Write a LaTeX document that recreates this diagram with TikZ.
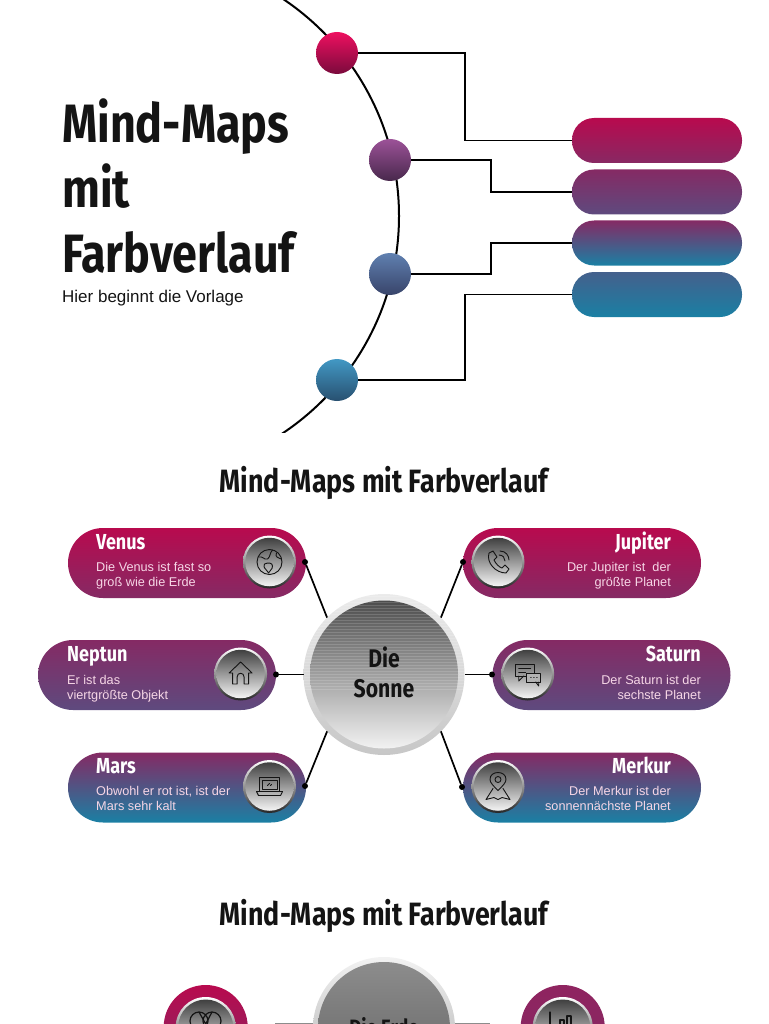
\documentclass[tikz,border=0pt]{standalone}
\usepackage{fontspec}
\setmainfont{Liberation Sans}
\newfontfamily\headfont[FakeStretch=0.83]{Fira Sans}
\usetikzlibrary{shapes.geometric, arrows.meta}
\definecolor{textdark}{HTML}{141414}
\definecolor{berry}{HTML}{B80A4E}
\definecolor{plum}{HTML}{852A64}
\definecolor{violet}{HTML}{5E4A7E}
\definecolor{teal}{HTML}{1A80A4}
\definecolor{dusk}{HTML}{5C6A94}
\definecolor{slate}{HTML}{44608C}
\definecolor{blush}{HTML}{F6D6E6}
\tikzset{
  link/.style={draw=black, line width=1.7pt},
  ball/.style={circle, minimum size=42pt, inner sep=0pt, outer sep=0pt},
  bar/.style={rectangle, rounded corners=22pt, minimum width=170pt, minimum height=45pt, inner sep=0pt, outer sep=0pt},
  pill/.style={rectangle, rounded corners=35pt, minimum width=238pt, minimum height=70pt, inner sep=0pt, outer sep=0pt},
  rim/.style={circle, minimum size=53pt, inner sep=0pt, outer sep=0pt, top color=white, middle color=black!35, bottom color=black!85},
  disc/.style={circle, minimum size=48.5pt, inner sep=0pt, outer sep=0pt, top color=black!75, bottom color=black!4},
  pin/.style={circle, fill=black, minimum size=6pt, inner sep=0pt, outer sep=0pt},
  icon/.style={draw=textdark, line width=0.9pt, line join=round, line cap=round},
  headline/.style={font=\headfont\bfseries\fontsize{32.3}{38}\selectfont, text=textdark, inner sep=0pt},
  planet/.style={font=\headfont\bfseries\fontsize{21.7}{26}\selectfont, text=white, inner sep=0pt},
  note/.style={font=\fontsize{12.7}{15}\selectfont, inner sep=0pt, text=blush},
}
\begin{document}
\begin{tikzpicture}[x=1pt,y=-1pt]
\useasboundingbox (0,0) rectangle (768,1024);
\begin{scope}
\clip (0,0) rectangle (768,1024);
% title block
\node[anchor=base west, inner sep=0pt, align=left, text=textdark, font=\headfont\bfseries\fontsize{54}{65}\selectfont] (title) at (62,272) {Mind-Maps\\mit\\Farbverlauf};
\node[anchor=base west, inner sep=0pt, text=textdark, font=\fontsize{17}{20}\selectfont] (subtitle) at (62,302) {Hier beginnt die Vorlage};
% arc with balls
\begin{scope}
\clip (200,0) rectangle (420,432);
\draw[line width=2pt] (138,216) circle (261);
\end{scope}
\node[ball, top color={rgb,255:red,238;green,16;blue,96}, bottom color={rgb,255:red,122;green,10;blue,60}] (ball1) at (337,53) {};
\node[ball, top color={rgb,255:red,156;green,82;blue,152}, bottom color={rgb,255:red,72;green,40;blue,76}] (ball2) at (390,160) {};
\node[ball, top color={rgb,255:red,96;green,128;blue,176}, bottom color={rgb,255:red,56;green,68;blue,106}] (ball3) at (390,274) {};
\node[ball, top color={rgb,255:red,66;green,152;blue,196}, bottom color={rgb,255:red,40;green,80;blue,112}] (ball4) at (337,380) {};
\node[bar, top color=berry, bottom color=plum!95!berry] (bar1) at (657,140.5) {};
\node[bar, top color=plum, bottom color=violet] (bar2) at (657,192) {};
\node[bar, top color=plum, middle color=dusk, bottom color=teal] (bar3) at (657,243) {};
\node[bar, top color=slate, bottom color=teal] (bar4) at (657,294.5) {};
\draw[link] (ball1.east) -- ++(107,0) |- (bar1.west);
\draw[link] (ball2.east) -- ++(80,0) |- (bar2.west);
\draw[link] (ball3.east) -- ++(80,0) |- (bar3.west);
\draw[link] (ball4.east) -- ++(107,0) |- (bar4.west);
% second slide
\node[headline] (head2) at (384,483) {Mind-Maps mit Farbverlauf};
\node[pill, top color=berry, bottom color=plum] (venus) at (187,563) {};
\node[pill, top color=plum, bottom color=violet] (neptun) at (157,675) {};
\node[pill, top color=plum, middle color=dusk, bottom color=teal] (mars) at (187,787.5) {};
\node[pill, top color=berry, bottom color=plum] (jupiter) at (582,563) {};
\node[pill, top color=plum, bottom color=violet] (saturn) at (611.5,675) {};
\node[pill, top color=plum, middle color=dusk, bottom color=teal] (merkur) at (582,787.5) {};
\node[pin] (pinvenus) at (305,562) {};
\node[pin] (pinneptun) at (276,674.5) {};
\node[pin] (pinmars) at (305,786) {};
\node[pin] (pinjupiter) at (463,562) {};
\node[pin] (pinsaturn) at (492,674.5) {};
\node[pin] (pinmerkur) at (462,787) {};
\coordinate (sun) at (384,674.5);
\node[circle, minimum size=161pt, inner sep=0pt, outer sep=0pt, top color=black!8, middle color=black!32, bottom color=black!22] (sunrim) at (sun) {};
\node[circle, minimum size=148pt, inner sep=0pt, top color=black!70, middle color=black!50, bottom color=black!5] (sundisc) at (sun) {};
\draw[link] (pinvenus) -- (sunrim.135);
\draw[link] (pinneptun) -- (sunrim.180);
\draw[link] (pinmars) -- (sunrim.225);
\draw[link] (pinjupiter) -- (sunrim.45);
\draw[link] (pinsaturn) -- (sunrim.0);
\draw[link] (pinmerkur) -- (sunrim.315);
\begin{scope}
\clip (sun) circle (80.5);
\foreach \yy in {596,599,...,690} \draw[white, opacity=0.15, line width=0.8pt] (300,\yy) -- (470,\yy);
\end{scope}
\node[align=center, inner sep=0pt, text=textdark, font=\headfont\bfseries\fontsize{25.5}{30}\selectfont] (suntext) at (384,672.5) {Die\\Sonne};
% icon discs
\node[rim] (rimvenus) at (269.5,562) {};
\node[disc] (discvenus) at (269.5,562) {};
\node[rim] (rimneptun) at (240.6,674) {};
\node[disc] (discneptun) at (240.6,674) {};
\node[rim] (rimmars) at (269.5,786.5) {};
\node[disc] (discmars) at (269.5,786.5) {};
\node[rim] (rimjupiter) at (498,562) {};
\node[disc] (discjupiter) at (498,562) {};
\node[rim] (rimsaturn) at (527.7,674) {};
\node[disc] (discsaturn) at (527.7,674) {};
\node[rim] (rimmerkur) at (498,786.5) {};
\node[disc] (discmerkur) at (498,786.5) {};
% globe
\begin{scope}[shift={(269.5,562)}]
\draw[icon] (0,0) circle (12.5);
\draw[icon] (-11,-5) .. controls (-6,-6) and (-6,-2) .. (-2,-3) .. controls (1,-5) and (0,-9) .. (3,-12);
\draw[icon] (-5,2) .. controls (-1,0) and (3,1) .. (3,4) .. controls (3,8) and (0,8) .. (-1,11) .. controls (-3,7) and (-7,6) .. (-5,2);
\draw[icon] (7,-9) .. controls (5,-5) and (9,-4) .. (12,-3);
\end{scope}
% house
\begin{scope}[shift={(240.6,674)}]
\draw[icon] (-11.5,-1) -- (0,-12) -- (11.5,-1) -- (8,-1) -- (8,10) -- (3.5,10) -- (3.5,3) .. controls (3.5,-2) and (-3.5,-2) .. (-3.5,3) -- (-3.5,10) -- (-8,10) -- (-8,-1) -- cycle;
\end{scope}
% laptop
\begin{scope}[shift={(269.5,786.5)}]
\draw[icon] (-10,5) -- (-10,-9) -- (10,-9) -- (10,5);
\draw[icon] (-7.5,3) rectangle (7.5,-6.5);
\draw[icon] (-13,5) -- (13,5) -- (11,9) -- (-11,9) -- cycle;
\draw[icon] (-2,-1) -- (0,-3);
\draw[icon] (1,-1) -- (2,-2);
\end{scope}
% phone
\begin{scope}[shift={(498,562)}]
\draw[icon] (-9,-9) -- (-5,-11) -- (-1,-5) -- (-4,-2) .. controls (-2,2) and (1,5) .. (4,6) -- (7,3) -- (11,7) -- (8,11) .. controls (-2,11) and (-12,1) .. (-9,-9);
\draw[icon] (1,-7) .. controls (5,-7) and (7,-4) .. (7,-1);
\draw[icon] (2,-11) .. controls (8,-11) and (11,-6) .. (11,-2);
\end{scope}
% chat
\begin{scope}[shift={(527.7,674)}]
\draw[icon] (-12,-10) rectangle (7,2);
\draw[icon] (-9,-6) -- (3,-6);
\draw[icon] (-9,-2) -- (-2,-2);
\draw[icon] (-9,2) -- (-9,7) -- (-4,2);
\draw[icon, fill=black!30] (-1,-1) rectangle (13,8);
\draw[icon] (8,8) -- (11,12) -- (11,8);
\draw[icon] (3,3.5) -- (3.5,3.5) (6,3.5) -- (6.5,3.5) (9,3.5) -- (9.5,3.5);
\end{scope}
% map pin
\begin{scope}[shift={(498,786.5)}]
\draw[icon] (0,4) .. controls (-5,-1) and (-8,-4) .. (-8,-7) .. controls (-8,-12) and (-4,-14) .. (0,-14) .. controls (4,-14) and (8,-12) .. (8,-7) .. controls (8,-4) and (5,-1) .. (0,4);
\draw[icon] (0,-7) circle (3);
\draw[icon] (-5,2) -- (-12,13) -- (-4,11) -- (0,13) -- (4,11) -- (12,13) -- (5,2);
\end{scope}
% planet texts
\node[planet, anchor=base west] (tvenus) at (96,549) {Venus};
\node[note, anchor=base west, align=left] (nvenus) at (96,586.5) {Die Venus ist fast so\\groß wie die Erde};
\node[planet, anchor=base west] (tneptun) at (67,661.5) {Neptun};
\node[note, anchor=base west, align=left] (nneptun) at (67,699) {Er ist das\\viertgrößte Objekt};
\node[planet, anchor=base west] (tmars) at (96,773) {Mars};
\node[note, anchor=base west, align=left] (nmars) at (96,810.5) {Obwohl er rot ist, ist der\\Mars sehr kalt};
\node[planet, anchor=base east] (tjupiter) at (671,549) {Jupiter};
\node[note, anchor=base east, align=right] (njupiter) at (671,586.5) {Der Jupiter ist\ \ der\\größte Planet};
\node[planet, anchor=base east] (tsaturn) at (701,661.5) {Saturn};
\node[note, anchor=base east, align=right] (nsaturn) at (701,699) {Der Saturn ist der\\sechste Planet};
\node[planet, anchor=base east] (tmerkur) at (671,773) {Merkur};
\node[note, anchor=base east, align=right] (nmerkur) at (671,810.5) {Der Merkur ist der\\sonnennächste Planet};
% third slide
\node[headline] (head3) at (384,916) {Mind-Maps mit Farbverlauf};
\coordinate (endleft) at (275,1023.6);
\coordinate (endright) at (490,1023.6);
\draw[link, draw=black!45] (endleft) -- (endright);
\node[circle, minimum size=142pt, inner sep=0pt, top color=black!5, bottom color=black!35] (earthrim) at (384,1028) {};
\node[circle, minimum size=132pt, inner sep=0pt, top color=black!45, bottom color=black!62] (earthdisc) at (384,1028) {};
\node[inner sep=0pt, text=textdark, font=\headfont\bfseries\fontsize{22.2}{28}\selectfont] (earthtext) at (384,1027) {Die Erde};
\node[circle, minimum size=84pt, inner sep=0pt, top color=berry, bottom color=plum] (ringleft) at (205.7,1027) {};
\node[rim, minimum size=60pt] (rimleft) at (205.7,1027) {};
\node[disc, minimum size=55pt] (discleft) at (205.7,1027) {};
\draw[icon, line width=1.2pt] (199,1021) circle (9) (212,1021) circle (9);
\draw[icon, line width=1.2pt] (199,1012) -- (205.7,1024) -- (212,1012);
\node[circle, minimum size=84pt, inner sep=0pt, top color=plum!80!berry, bottom color=plum] (ringright) at (562.7,1027) {};
\node[rim, minimum size=60pt] (rimright) at (562.7,1027) {};
\node[disc, minimum size=55pt] (discright) at (562.7,1027) {};
\draw[icon, line width=1.2pt] (550,1012) -- (550,1026);
\draw[icon, line width=1.2pt] (560,1026) -- (560,1020) -- (564,1020) -- (564,1026);
\draw[icon, line width=1.2pt] (567,1026) -- (567,1016) -- (571,1016) -- (571,1026);
\end{scope}
\end{tikzpicture}
\end{document}
